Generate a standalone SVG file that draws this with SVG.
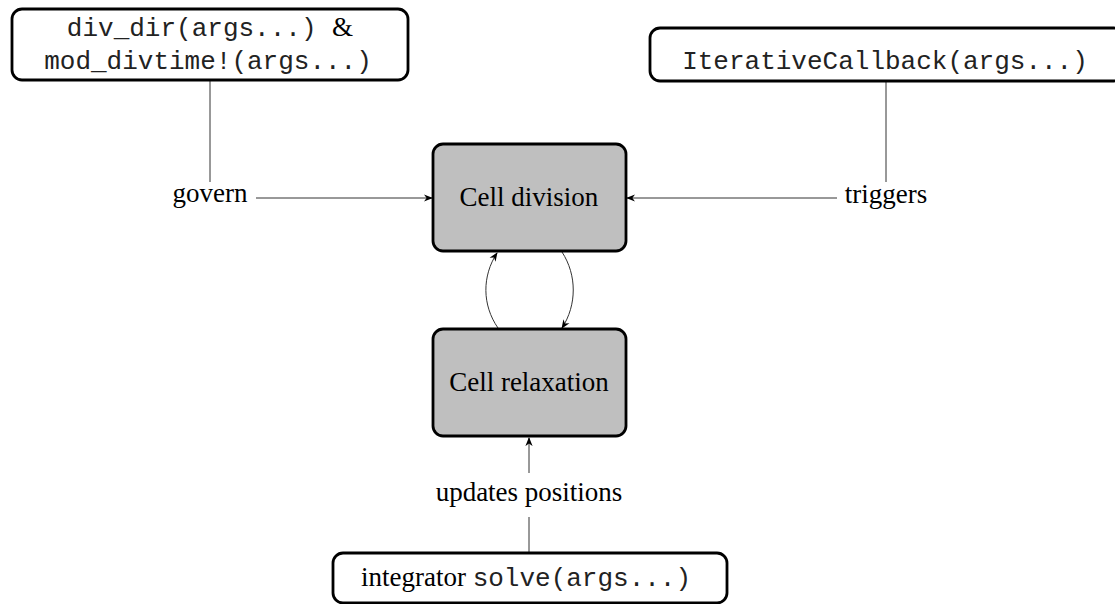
<svg xmlns="http://www.w3.org/2000/svg" width="1115" height="604" viewBox="0 0 1115 604">
<defs>
<style>
.box{fill:#ffffff;stroke:#000;stroke-width:2.8}
.gbox{fill:#bfbfbf;stroke:#000;stroke-width:2.8}
.serif{font-family:"Liberation Serif","Times New Roman",serif;font-size:27px;fill:#000}
.mono{font-family:"Liberation Mono","Courier New",monospace;font-size:26px;fill:#222}
.ln{fill:none;stroke:#333;stroke-width:1}
</style>
<marker id="ah" viewBox="0 0 10 10" refX="9" refY="5" markerWidth="9" markerHeight="9" markerUnits="userSpaceOnUse" orient="auto">
<path d="M0,1 L10,5 L0,9 L3,5 Z" fill="#000"/>
</marker>
</defs>
<rect width="1115" height="604" fill="#fff"/>
<g id="connectors">
<line class="ln" x1="210" y1="81" x2="210" y2="182"/>
<line class="ln" x1="256" y1="198" x2="432" y2="198" marker-end="url(#ah)"/>
<line class="ln" x1="886" y1="82" x2="886" y2="182"/>
<line class="ln" x1="837" y1="198" x2="627" y2="198" marker-end="url(#ah)"/>
<path class="ln" d="M498,328 C482,305 482,276 497,253" marker-end="url(#ah)"/>
<path class="ln" d="M562,252 C577,275 577,305 562,328" marker-end="url(#ah)"/>
<line class="ln" x1="529" y1="553" x2="529" y2="517"/>
<line class="ln" x1="529" y1="473" x2="529" y2="438" marker-end="url(#ah)"/>
<text class="serif" x="210" y="202" text-anchor="middle">govern</text>
<text class="serif" x="886" y="203" text-anchor="middle">triggers</text>
<text class="serif" x="529" y="501" text-anchor="middle">updates positions</text>
</g>
<g id="node-divdir">
<rect class="box" x="12" y="9" width="396" height="71" rx="10"/>
<text x="210" y="36" text-anchor="middle"><tspan class="mono">div_dir(args...) </tspan><tspan class="serif">&amp;</tspan></text>
<text class="mono" x="208" y="69" text-anchor="middle">mod_divtime!(args...)</text>
</g>
<g id="node-callback">
<rect class="box" x="650" y="28" width="474" height="53" rx="10"/>
<text class="mono" x="885" y="69" text-anchor="middle">IterativeCallback(args...)</text>
</g>
<g id="node-division">
<rect class="gbox" x="433" y="144" width="193" height="107" rx="10"/>
<text class="serif" x="529" y="206" text-anchor="middle">Cell division</text>
</g>
<g id="node-relaxation">
<rect class="gbox" x="433" y="329" width="193" height="107" rx="10"/>
<text class="serif" x="529" y="391" text-anchor="middle">Cell relaxation</text>
</g>
<g id="node-integrator">
<rect class="box" x="333" y="553" width="394" height="50" rx="10"/>
<text x="526" y="586" text-anchor="middle"><tspan class="serif">integrator </tspan><tspan class="mono">solve(args...)</tspan></text>
</g>
</svg>
